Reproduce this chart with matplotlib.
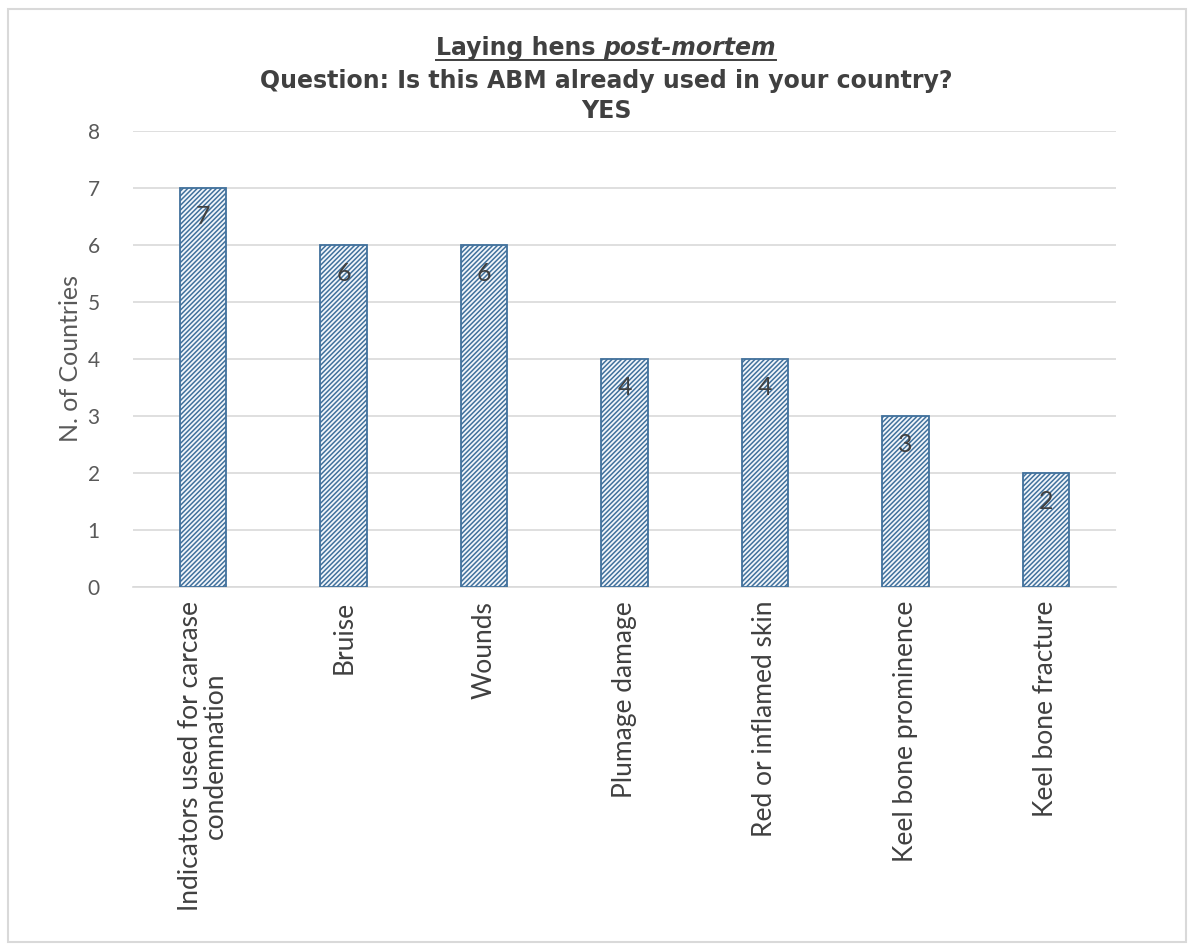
import matplotlib
matplotlib.use("Agg")
import matplotlib.pyplot as plt
from matplotlib.patches import Rectangle
from matplotlib.lines import Line2D

categories = [
    "Indicators used for carcase\ncondemnation",
    "Bruise",
    "Wounds",
    "Plumage damage",
    "Red or inflamed skin",
    "Keel bone prominence",
    "Keel bone fracture",
]
values = [7, 6, 6, 4, 4, 3, 2]
yticks = [0, 1, 2, 3, 4, 5, 6, 7, 8]

W, H = 1194, 950
fig = plt.figure(figsize=(W / 100, H / 100), dpi=100)
fig.patch.set_facecolor("white")

# outer chart frame
fig.add_artist(Rectangle((8 / W, 8 / H), (1186 - 8) / W, (941 - 8) / H,
                         transform=fig.transFigure, fill=False,
                         edgecolor="#d9d9d9", linewidth=1.5))

ax_l, ax_r = 133, 1116
ax_t, ax_b = 131, 587
ax = fig.add_axes([ax_l / W, 1 - ax_b / H, (ax_r - ax_l) / W, (ax_b - ax_t) / H])

plt.rcParams["hatch.color"] = "#7b9cc4"
plt.rcParams["hatch.linewidth"] = 1.1
x = list(range(len(categories)))
bars = ax.bar(x, values, width=0.33, color="#f2f6fb", edgecolor="#41719c",
              hatch="///////", linewidth=1.3, zorder=3)

ax.set_xlim(-0.5, len(categories) - 0.5)
ax.set_ylim(0, 8)
ax.set_yticks(yticks)
ax.set_yticklabels([str(v) for v in yticks], fontsize=15, color="#595959",
                   family="Lato")
ax.yaxis.grid(True, color="#d9d9d9", linewidth=1.2, zorder=0)
ax.set_axisbelow(True)
for s in ["top", "right", "left"]:
    ax.spines[s].set_visible(False)
ax.spines["bottom"].set_color("#d9d9d9")
ax.spines["bottom"].set_linewidth(1.2)
ax.tick_params(axis="both", length=0)
ax.tick_params(axis="y", pad=24)
ax.tick_params(axis="x", pad=10)

ax.set_xticks(x)
ax.set_xticklabels(categories, rotation=90, fontsize=19, color="#404040",
                   family="Lato", ha="center", va="top", multialignment="center",
                   linespacing=1.0)

ax.set_ylabel("N. of Countries", fontsize=18, color="#595959", family="Lato",
              labelpad=4)

for xi, v in zip(x, values):
    ax.text(xi, v - 0.5, str(v), ha="center", va="center", fontsize=18,
            color="#404040", family="Lato", zorder=4)

# title block
tcol = "#404040"
tsize = 17
fig.canvas.draw()
r = fig.canvas.get_renderer()
t1a = fig.text(0, 0, "Laying hens ", fontsize=tsize, fontweight="bold", color=tcol,
               family="DejaVu Sans", ha="left", va="baseline")
t1b = fig.text(0, 0, "post-mortem", fontsize=tsize, fontweight="bold",
               style="italic", color=tcol, family="DejaVu Sans",
               ha="left", va="baseline")
wa = t1a.get_window_extent(r).width
wb = t1b.get_window_extent(r).width
total = wa + wb
x0 = (606 - total / 2)
base_y = H - 55
t1a.set_position((x0 / W, base_y / H))
t1b.set_position(((x0 + wa) / W, base_y / H))
uy = (base_y - 5) / H
fig.add_artist(Line2D([x0 / W, (x0 + total) / W], [uy, uy],
                      transform=fig.transFigure, color=tcol, linewidth=1.4))
fig.text(606 / W, 1 - 88 / H, "Question: Is this ABM already used in your country?",
         fontsize=tsize, fontweight="bold", color=tcol, family="DejaVu Sans",
         ha="center", va="baseline")
fig.text(606 / W, 1 - 118 / H, "YES", fontsize=tsize, fontweight="bold",
         color=tcol, family="DejaVu Sans", ha="center", va="baseline")

fig.savefig("out.png", dpi=100, facecolor="white")
